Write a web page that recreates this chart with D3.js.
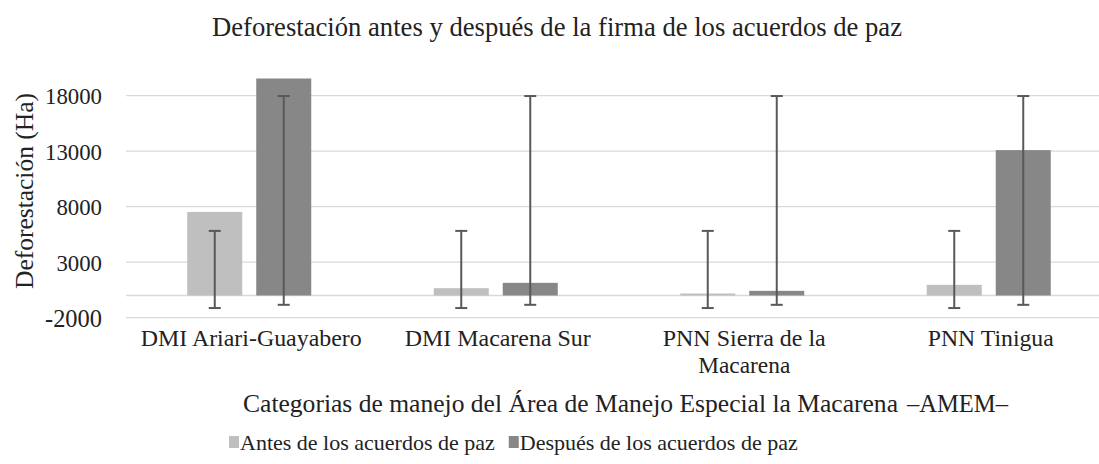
<!DOCTYPE html>
<html>
<head>
<meta charset="utf-8">
<script src="https://cdn.jsdelivr.net/npm/d3@7"></script>
<style>
  body { margin: 0; background: #fff; }
</style>
</head>
<body>
<svg id="chart1"></svg>
<script>
// Data
const categories = ["DMI Ariari-Guayabero", "DMI Macarena Sur", "PNN Sierra de la Macarena", "PNN Tinigua"];
const seriesNames = ["Antes de los acuerdos de paz", "Después de los acuerdos de paz"];
const antes = [7530, 660, 180, 960];
const despues = [19550, 1140, 420, 13100];
// custom error bars (low / high ends)
const antesErrLow = [-1130, -1130, -1130, -1130];
const antesErrHigh = [5820, 5820, 5820, 5820];
const despuesErrLow = [-840, -840, -840, -840];
const despuesErrHigh = [17970, 17970, 17970, 17970];
const yTicks = [-2000, 3000, 8000, 13000, 18000];

const dimensions = {
    width: 1099,
    height: 464,
    plotLeft: 126,
    plotRight: 1112,
    plotTop: 73.5,
    plotBottom: 317.7,
    barWidth: 55,
    barGap: 14
};

const FONT = "'Liberation Serif', 'Times New Roman', Tinos, serif";
const colors = ["#bfbfbf", "#878787"];

const svg = d3.select("#chart1")
    .attr("width", dimensions.width)
    .attr("height", dimensions.height);

// add a text whose font size is chosen so it spans the given width
function addText(parent, str, width) {
    const t = parent.append("text")
        .style("font-family", FONT)
        .style("font-size", "20px")
        .style("fill", "#222")
        .text(str);
    const len = t.node().getComputedTextLength();
    t.style("font-size", (20 * width / len) + "px")
        .attr("textLength", width)
        .attr("lengthAdjust", "spacingAndGlyphs");
    return t;
}

const xScale = d3.scaleBand()
    .domain(categories)
    .range([dimensions.plotLeft, dimensions.plotRight]);

const yScale = d3.scaleLinear()
    .domain([-2000, 20000])
    .range([dimensions.plotBottom, dimensions.plotTop]);

// Gridlines + zero line
svg.append("g")
    .selectAll("line")
    .data(yTicks.concat([0]))
    .enter()
    .append("line")
    .attr("x1", dimensions.plotLeft)
    .attr("x2", dimensions.plotRight)
    .attr("y1", d => yScale(d))
    .attr("y2", d => yScale(d))
    .attr("stroke", "#d9d9d9")
    .attr("stroke-width", 1.3);

// Y axis labels
const yAxis = svg.append("g")
    .attr("transform", `translate(${dimensions.plotLeft - 24},0)`)
    .call(d3.axisLeft(yScale).tickValues(yTicks).tickSize(0));
yAxis.select(".domain").remove();
yAxis.selectAll(".tick text").remove();
yAxis.selectAll(".tick").each(function (d) {
    addText(d3.select(this), String(d), String(d).length * 11.4)
        .attr("x", 0)
        .attr("dy", "0.35em")
        .attr("text-anchor", "end");
});

// Bars
const series = [
    { values: antes, low: antesErrLow, high: antesErrHigh },
    { values: despues, low: despuesErrLow, high: despuesErrHigh }
];

const groupWidth = dimensions.barWidth * 2 + dimensions.barGap;
const barX = (cat, s) => xScale(cat) + xScale.bandwidth() / 2 - groupWidth / 2 + s * (dimensions.barWidth + dimensions.barGap);

series.forEach((ser, s) => {
    svg.append("g")
        .selectAll("rect")
        .data(categories)
        .enter()
        .append("rect")
        .attr("x", d => barX(d, s))
        .attr("width", dimensions.barWidth)
        .attr("y", (d, i) => yScale(ser.values[i]))
        .attr("height", (d, i) => yScale(0) - yScale(ser.values[i]))
        .attr("fill", colors[s]);
});

// Error bars
series.forEach((ser, s) => {
    const g = svg.append("g")
        .attr("stroke", "#595959")
        .attr("stroke-width", 2);
    categories.forEach((cat, i) => {
        const cx = barX(cat, s) + dimensions.barWidth / 2;
        g.append("line")
            .attr("x1", cx).attr("x2", cx)
            .attr("y1", yScale(ser.high[i]))
            .attr("y2", yScale(ser.low[i]));
        [ser.high[i], ser.low[i]].forEach(v => {
            g.append("line")
                .attr("x1", cx - 6).attr("x2", cx + 6)
                .attr("y1", yScale(v)).attr("y2", yScale(v));
        });
    });
});

// Category labels (wrap long ones) - widths
const catLines = {
    "DMI Ariari-Guayabero": [["DMI Ariari-Guayabero", 221]],
    "DMI Macarena Sur": [["DMI Macarena Sur", 186]],
    "PNN Sierra de la Macarena": [["PNN Sierra de la", 163], ["Macarena", 92]],
    "PNN Tinigua": [["PNN Tinigua", 126]]
};
categories.forEach(cat => {
    const cx = xScale(cat) + xScale.bandwidth() / 2 + 2;
    catLines[cat].forEach(([line, w], k) => {
        addText(svg, line, w)
            .attr("x", cx)
            .attr("y", 346 + k * 26.5)
            .attr("text-anchor", "middle");
    });
});

// Title
addText(svg, "Deforestación antes y después de la firma de los acuerdos de paz", 690)
    .attr("x", 557)
    .attr("y", 36)
    .attr("text-anchor", "middle");

// Y axis title
addText(svg, "Deforestación (Ha)", 196)
    .attr("transform", `translate(33,191) rotate(-90)`)
    .attr("text-anchor", "middle");

// X axis title
addText(svg, "Categorias de manejo del Área de Manejo Especial la Macarena", 655)
    .attr("x", 243)
    .attr("y", 412);
addText(svg, "–AMEM–", 101)
    .attr("x", 907)
    .attr("y", 412);

// Legend
const legend = svg.append("g").attr("transform", "translate(229,0)");
let lx = 0;
seriesNames.forEach((name, i) => {
    legend.append("rect")
        .attr("x", lx)
        .attr("y", 436)
        .attr("width", 10)
        .attr("height", 12)
        .attr("fill", colors[i]);
    const t = legend.append("text")
        .attr("x", lx + 11)
        .attr("y", 450)
        .style("font-family", FONT)
        .style("font-size", "22px")
        .style("fill", "#222")
        .text(name);
    lx += 11 + t.node().getComputedTextLength() + 14;
});
</script>
</body>
</html>
